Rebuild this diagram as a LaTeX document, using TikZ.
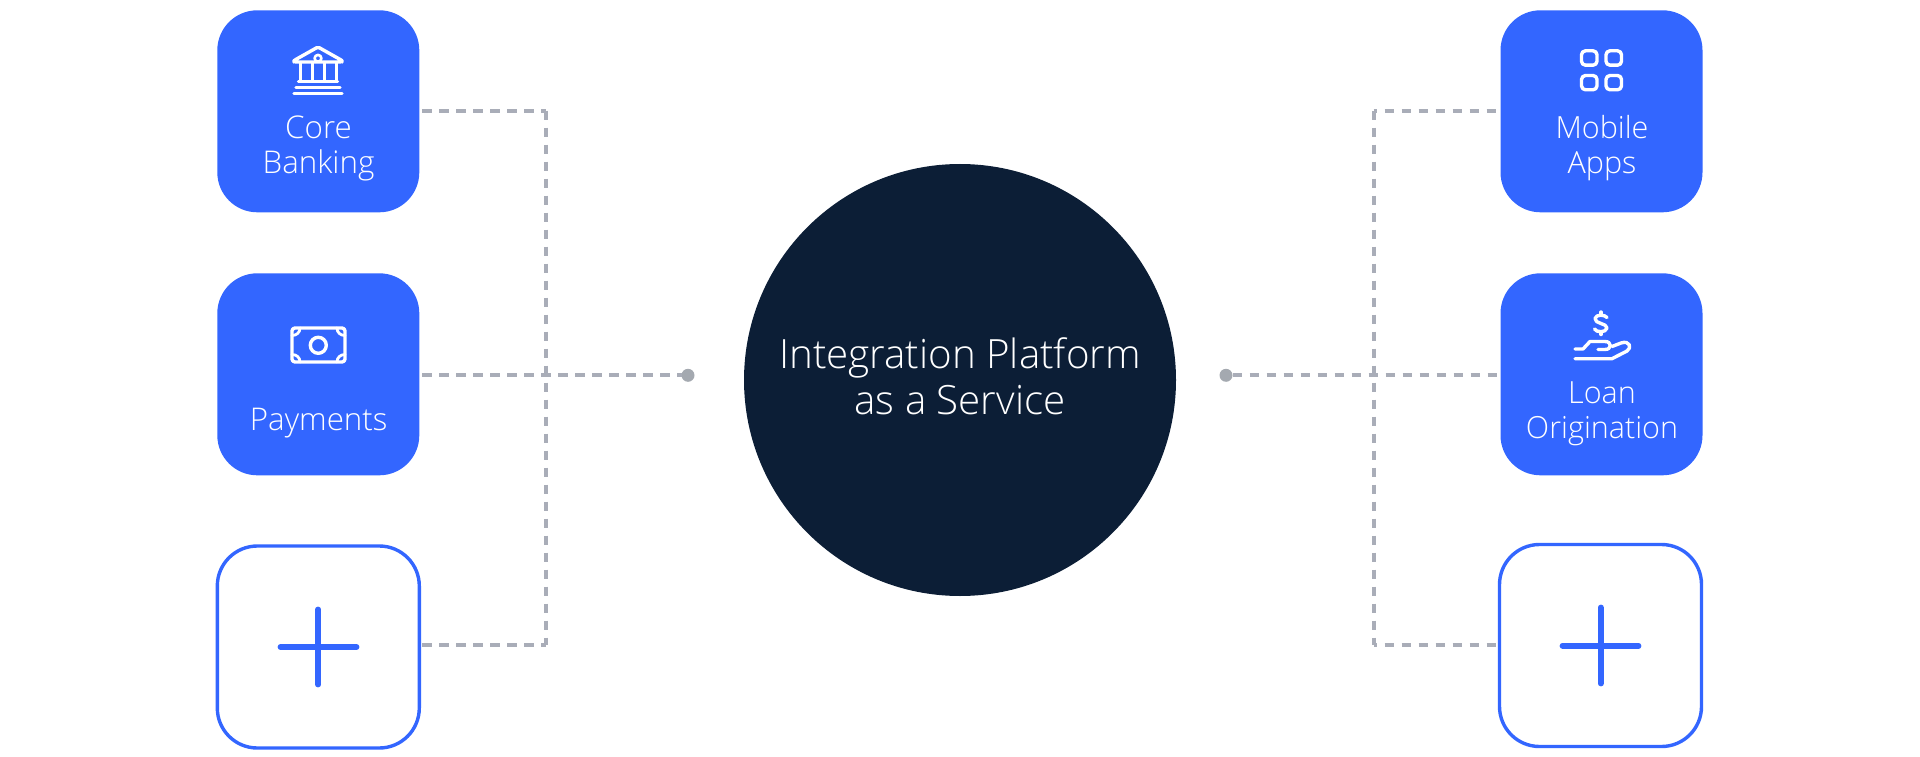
\documentclass[tikz,border=0pt]{standalone}
\usepackage{fontspec}
\setmainfont{Open Sans Light}
\definecolor{brandblue}{HTML}{3366FF}
\definecolor{navy}{HTML}{0C1E36}
\definecolor{dashgrey}{HTML}{A9ADB8}
\definecolor{dotgrey}{HTML}{A4A9B0}
\tikzset{
  bluebox/.style={rectangle,rounded corners=40pt,minimum width=202pt,minimum height=202pt,inner sep=0pt,outer sep=0pt,fill=brandblue},
  addbox/.style={rectangle,rounded corners=40pt,minimum width=202pt,minimum height=202pt,inner sep=0pt,outer sep=0pt,fill=white,draw=brandblue,line width=3.4pt},
  boxtext/.style={text=white,align=center,font=\fontsize{30.5}{35}\selectfont,inner sep=0pt},
  lefttext/.style={boxtext,font=\fontsize{31.3}{35}\selectfont},
  dashline/.style={draw=dashgrey,line width=4pt,dash pattern=on 9.5pt off 7.5pt},
  enddot/.style={circle,fill=dotgrey,minimum size=13pt,inner sep=0pt,outer sep=0pt},
  icon/.style={draw=white,line width=3.4pt,line cap=round,line join=round},
  plusmark/.style={draw=brandblue,line width=5.8pt,line cap=round}
}
\begin{document}
\begin{tikzpicture}[x=1pt,y=-1pt]
\useasboundingbox (0,0) rectangle (1920,757);
% junctions
\coordinate (jlt) at (546,110.7);
\coordinate (jlb) at (546,645.3);
\coordinate (jrt) at (1373.7,110.7);
\coordinate (jrb) at (1373.7,645.3);
% nodes
\node[circle,fill=navy,minimum size=432pt,inner sep=0pt,outer sep=0pt] (hub) at (960,380) {};
\node[text=white,align=center,font=\fontsize{40.3}{45.7}\selectfont,inner sep=0pt] (hubtext) at (960,376) {Integration Platform\\as a Service};
\node[bluebox] (core) at (318.3,111.3) {};
\node[bluebox] (pay) at (318.3,374.3) {};
\node[addbox] (addl) at (318.3,647) {};
\node[bluebox] (mobile) at (1601.5,111.3) {};
\node[bluebox] (loan) at (1601.5,374.3) {};
\node[addbox] (addr) at (1600.5,645.5) {};
\node[enddot] (dotl) at (688,375.3) {};
\node[enddot] (dotr) at (1226,375.3) {};
% labels
\node[lefttext] (coret) at (318.5,148) {Core\\Banking};
\node[lefttext] (payt) at (318.7,423) {Payments};
\node[boxtext] (mobt) at (1602,148) {Mobile\\Apps};
\node[boxtext] (loant) at (1602,413.5) {Loan\\Origination};
% connectors
\draw[dashline,shorten <=3pt] (core.east |- jlt) -- (jlt);
\draw[dashline] (jlt) -- (jlb);
\draw[dashline,shorten <=3pt] (pay.east |- dotl) -- (dotl);
\draw[dashline,shorten <=3pt] (addl.east |- jlb) -- (jlb);
\draw[dashline,dash phase=6pt] (jrt) -- (mobile.west |- jrt);
\draw[dashline] (jrt) -- (jrb);
\draw[dashline] (dotr) -- (loan.west |- dotr);
\draw[dashline,dash phase=6pt] (jrb) -- (addr.west |- jrb);
% plus marks
\draw[plusmark] (280.5,647) -- (356.5,647);
\draw[plusmark] (318.3,609.5) -- (318.3,684.5);
\draw[plusmark] (1562.5,645.7) -- (1638.5,645.7);
\draw[plusmark] (1600.7,607.5) -- (1600.7,683.5);
% bank icon
\draw[icon,rounded corners=1.5pt] (318,47) -- (342,60.5) -- (342,62) -- (294,62) -- (294,60.5) -- cycle;
\draw[icon,line width=2.6pt] (318,58.3) circle[radius=3.4];
\draw[icon,line width=3pt] (300,63) -- (300,81.5);
\draw[icon,line width=3pt] (312,63) -- (312,81.5);
\draw[icon,line width=3pt] (324,63) -- (324,81.5);
\draw[icon,line width=3pt] (336,63) -- (336,81.5);
\draw[icon] (298.5,81.5) -- (337.5,81.5);
\draw[icon] (296,87.3) -- (340,87.3);
\draw[icon] (294,93.8) -- (342,93.8);
% money icon
\draw[icon,rounded corners=3pt] (292,328) rectangle (345,362);
\draw[icon] (318.3,345.3) circle[radius=8];
\draw[icon,line width=2.8pt] (292,335.5) .. controls (296.5,335.5) and (300,332.5) .. (300,328);
\draw[icon,line width=2.8pt] (345,335.5) .. controls (340.5,335.5) and (337,332.5) .. (337,328);
\draw[icon,line width=2.8pt] (292,354.5) .. controls (296.5,354.5) and (300,357.5) .. (300,362);
\draw[icon,line width=2.8pt] (345,354.5) .. controls (340.5,354.5) and (337,357.5) .. (337,362);
% apps icon
\draw[icon,rounded corners=4pt] (1581.5,50.8) rectangle (1597,65.2);
\draw[icon,rounded corners=4pt] (1606,50.8) rectangle (1621.5,65.2);
\draw[icon,rounded corners=4pt] (1581.5,75.5) rectangle (1597,89.8);
\draw[icon,rounded corners=4pt] (1606,75.5) rectangle (1621.5,89.8);
% hand icon
\draw[icon] (1607,317.5) .. controls (1605,314.5) and (1596,314) .. (1595,318.5) .. controls (1594.5,324) and (1607,323) .. (1607,328) .. controls (1606,333) and (1596,332.5) .. (1594.5,329);
\draw[icon] (1601,312) -- (1601,314.5) (1601,332) -- (1601,334.5);
\draw[icon] (1575,349) -- (1583,349) -- (1590,341.5) -- (1605,341.5) .. controls (1612,341.5) and (1612,349.5) .. (1605,349.5) -- (1598,349.5);
\draw[icon] (1612,346.5) -- (1621,343) .. controls (1630,340) and (1632,348) .. (1627,351) -- (1612,358.7) -- (1575,358.7);
\end{tikzpicture}
\end{document}
